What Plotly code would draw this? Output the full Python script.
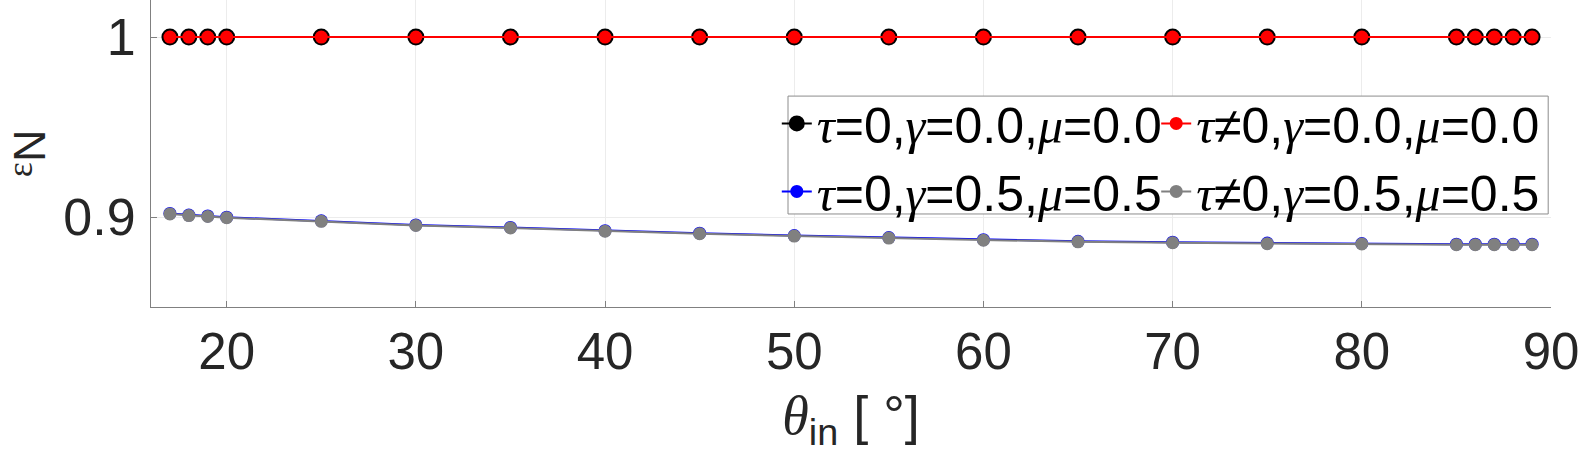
import plotly.graph_objects as go

# incidence angles (deg)
theta_in = [17, 18, 19, 20, 25, 30, 35, 40, 45, 50, 55, 60, 65, 70, 75, 80, 85, 86, 87, 88, 89]

# normal restitution coefficient, one list per case
eps_tau0_g00 = [1.0] * 21
eps_tau1_g00 = [1.0] * 21
eps_tau1_g05 = [0.9017, 0.9008, 0.9003, 0.8996, 0.8976, 0.8953, 0.8939, 0.8921, 0.8907, 0.8894,
                0.8883, 0.8871, 0.8862, 0.8857, 0.8852, 0.8850, 0.8846, 0.8846, 0.8846, 0.8846, 0.8846]
eps_tau0_g05 = [v + 0.0003 for v in eps_tau1_g05]

SERIF = "Liberation Serif, Times New Roman, serif"


def greek(ch):
    return f'<span style="font-family:{SERIF}"><i>{ch}</i></span>'


names = [
    f"{greek('τ')}=0,{greek('γ')}=0.0,{greek('μ')}=0.0",
    f"{greek('τ')}≠0,{greek('γ')}=0.0,{greek('μ')}=0.0",
    f"{greek('τ')}=0,{greek('γ')}=0.5,{greek('μ')}=0.5",
    f"{greek('τ')}≠0,{greek('γ')}=0.5,{greek('μ')}=0.5",
]

FONT = "Liberation Sans, Arial, sans-serif"
TXT = "#262626"

fig = go.Figure()
fig.add_trace(go.Scatter(x=theta_in, y=eps_tau0_g00, name=names[0], mode="lines+markers",
                         line=dict(color="black", width=2),
                         marker=dict(color="black", size=17), legend="legend"))
fig.add_trace(go.Scatter(x=theta_in, y=eps_tau1_g00, name=names[1], mode="lines+markers",
                         line=dict(color="#ff0000", width=2),
                         marker=dict(color="#ff0000", size=13), legend="legend2"))
fig.add_trace(go.Scatter(x=theta_in, y=eps_tau0_g05, name=names[2], mode="lines+markers",
                         line=dict(color="#0000ff", width=2),
                         marker=dict(color="#0000ff", size=13), legend="legend"))
fig.add_trace(go.Scatter(x=theta_in, y=eps_tau1_g05, name=names[3], mode="lines+markers",
                         line=dict(color="#808080", width=2),
                         marker=dict(color="#808080", size=13), legend="legend2"))

leg_common = dict(
    orientation="v", yanchor="top", y=0.725, xanchor="left",
    bgcolor="rgba(0,0,0,0)", borderwidth=0,
    font=dict(size=50, color="black", family=FONT),
    itemwidth=30, tracegroupgap=0,
)

fig.update_layout(
    width=1578, height=471,
    margin=dict(l=151, r=27, t=0, b=164),
    paper_bgcolor="white", plot_bgcolor="white",
    font=dict(family=FONT, size=52, color=TXT),
    showlegend=True,
    legend=dict(leg_common, x=0.447),
    legend2=dict(leg_common, x=0.718),
    shapes=[dict(type="rect", xref="paper", yref="paper", x0=0.455, x1=0.998, y0=0.303, y1=0.687,
                 fillcolor="white", line=dict(color="#8c8c8c", width=1), layer="above")],
    xaxis=dict(
        range=[16, 90], dtick=10, tick0=0, automargin=False, ticklabeloverflow="allow",
        showgrid=True, gridcolor="#ececec", gridwidth=1,
        showline=True, linecolor="#808080", linewidth=1,
        ticks="inside", ticklen=6, tickcolor="#808080",
        tickfont=dict(size=51, color=TXT), zeroline=False,
        title=dict(text=f'<span style="font-family:{SERIF}"><i>θ</i></span><sub>in</sub> [ °]',
                   font=dict(size=54, color=TXT), standoff=16),
    ),
    yaxis=dict(
        range=[0.85, 1.0206], tickvals=[0.9, 1.0], ticktext=["0.9", "1"], automargin=False,
        ticklabelstandoff=4,
        showgrid=True, gridcolor="#ececec", gridwidth=1,
        showline=True, linecolor="#808080", linewidth=1,
        ticks="inside", ticklen=6, tickcolor="#808080",
        tickfont=dict(size=52, color=TXT), zeroline=False,
        title=dict(text=f'<span style="font-family:{SERIF};font-size:36px">ε</span><sub>N</sub>',
                   font=dict(size=64, color=TXT), standoff=30),
    ),
)

# the page has a default 8px body margin; drop it so the figure fills the window
fig.write_html("out.html", config={"displayModeBar": False},
               post_script="document.body.style.margin='0';")
